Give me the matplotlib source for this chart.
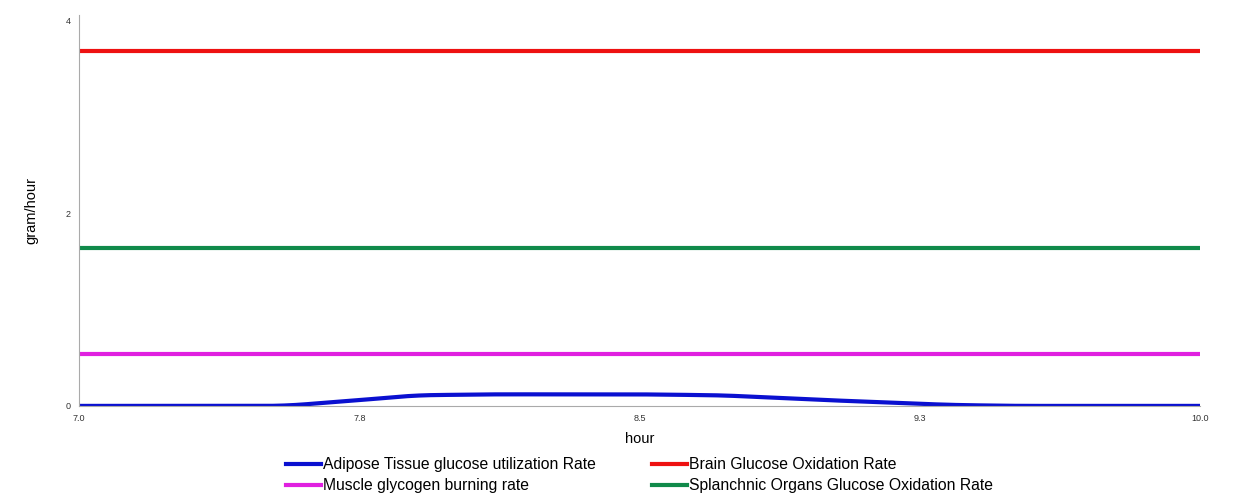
import matplotlib.pyplot as plt
import numpy as np

plt.rcParams["font.family"] = ["Liberation Sans", "DejaVu Sans"]

# hours
hours = [7.0, 7.55, 7.75, 7.9, 8.1, 8.3, 8.5, 8.72, 9.0, 9.33, 9.5, 10.0]
adipose = [0.0, 0.0, 0.06, 0.11, 0.12, 0.12, 0.12, 0.11, 0.06, 0.01, 0.0, 0.0]
brain = 3.68
splanchnic = 1.64
muscle = 0.54

xticks = [7.0, 7.75, 8.5, 9.25, 10.0]
xticklabels = ["7.0", "7.8", "8.5", "9.3", "10.0"]
yticks = [0, 2, 4]

fig = plt.figure(figsize=(12.35, 4.95), dpi=100)
ax = fig.add_axes([0.064, 0.18, 0.908, 0.79])

xs = np.linspace(7.0, 10.0, 400)
# smooth the blue curve through the read points
ys = np.interp(xs, hours, adipose)
k = np.ones(15) / 15
ys = np.convolve(np.pad(ys, 7, mode="edge"), k, mode="valid")

l1, = ax.plot(xs, ys, color="#0a10d0", lw=3, label="Adipose Tissue glucose utilization Rate")
l2, = ax.plot([7.0, 10.0], [brain, brain], color="#ee1111", lw=3, label="Brain Glucose Oxidation Rate")
l3, = ax.plot([7.0, 10.0], [muscle, muscle], color="#e020e0", lw=3, label="Muscle glycogen burning rate")
l4, = ax.plot([7.0, 10.0], [splanchnic, splanchnic], color="#108a4a", lw=3, label="Splanchnic Organs Glucose Oxidation Rate")

ax.set_xlim(7.0, 10.0)
ax.set_ylim(0, 4.06)
ax.set_xticks(xticks)
ax.set_xticklabels(xticklabels)
ax.set_yticks(yticks)
ax.tick_params(length=0, labelsize=6.5, pad=6, labelcolor="#333333")
for s in ["top", "right"]:
    ax.spines[s].set_visible(False)
for s in ["left", "bottom"]:
    ax.spines[s].set_color("#aaaaaa")
ax.set_xlabel("hour", fontsize=10.5, labelpad=6)
ax.set_ylabel("gram/hour", fontsize=10.5, labelpad=20)

ax.legend(handles=[l1, l3, l2, l4], loc="upper center", bbox_to_anchor=(0.5, -0.095), ncol=2,
          frameon=False, fontsize=11.3, handlelength=2.2, handletextpad=0.15,
          columnspacing=3.6, labelspacing=0.4)

fig.savefig("out.png", dpi=100)
